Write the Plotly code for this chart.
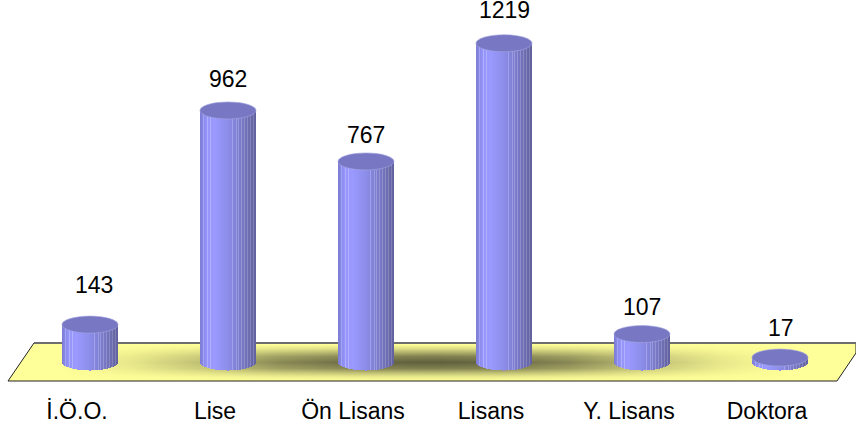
import math
import plotly.graph_objects as go

# ---- data ----
categories = ["İ.Ö.O.", "Lise", "Ön Lisans", "Lisans", "Y. Lisans", "Doktora"]
values = [143, 962, 767, 1219, 107, 17]
label_dx = [4, 0, 0, 0, 0, 1]
label_dy = [40, 31, 26, 33, 27, 30]

# floor shadow profile (pixel position, strength)
shadow_x_px = [60, 130, 200, 280, 360, 430, 500, 570, 650, 720, 790]
shadow_x_amt = [0, .15, .4, .75, .95, 1, .95, .75, .4, .15, 0]
shadow_y_px = [344, 348, 352, 356, 362, 368, 372, 376, 380]
shadow_y_amt = [0, .2, .5, .8, 1, .8, .45, .15, 0]

# ---- geometry ----
W, H = 856, 432
PLOT_H = 395
X0, STEP = 90, 138
Y0, PX_PER_UNIT = 362, 0.2615
CYL_W = 56
RIM = 8.5


def x_unit(px):
    return (px - X0) / STEP


def y_unit(py):
    return (Y0 - py) / PX_PER_UNIT


def px_paper(x, y):
    return f"{x / W:.5f} {1 - y / PLOT_H:.5f}"


idx = list(range(len(values)))
fig = go.Figure()

# shadow on the floor
fig.add_trace(go.Heatmap(
    x=[x_unit(p) for p in shadow_x_px],
    y=[y_unit(p) for p in shadow_y_px],
    z=[[a * b for a in shadow_x_amt] for b in shadow_y_amt],
    zmin=0, zmax=1, zsmooth="best", showscale=False, hoverinfo="skip",
    colorscale=[[0, "rgba(40,40,30,0)"], [1, "rgba(40,40,30,0.74)"]],
))

# cylinder bodies: one-pixel stripes with curved bottoms
shade_pos = [0, 6, 14, 28, 42, 50, 55]
shade_r = [126, 148, 154, 140, 120, 106, 98]
shade_g = [126, 148, 154, 140, 120, 106, 98]
shade_b = [214, 250, 255, 232, 196, 172, 160]
light_stripes = {3, 7, 10, 32, 36, 38, 41, 44, 47, 50, 53}


def lerp(xs, ys, v):
    for a, b, c, d in zip(xs, xs[1:], ys, ys[1:]):
        if v <= b:
            return c + (d - c) * (v - a) / (b - a)
    return ys[-1]


for k in range(CYL_W):
    r = lerp(shade_pos, shade_r, k)
    g = lerp(shade_pos, shade_g, k)
    b = lerp(shade_pos, shade_b, k)
    if k in light_stripes:
        r, g, b = r + 26, g + 26, min(b + 14, 255)
    t = (k + 0.5 - CYL_W / 2) / (CYL_W / 2)
    depth = RIM * math.sqrt(max(0, 1 - t * t)) / PX_PER_UNIT
    fig.add_trace(go.Bar(
        x=idx,
        y=[v + depth for v in values],
        base=[-depth] * len(values),
        width=1 / STEP,
        offset=(k - CYL_W / 2) / STEP,
        marker=dict(color=f"rgb({r:.0f},{g:.0f},{b:.0f})", line=dict(width=0)),
        showlegend=False,
        hoverinfo="skip",
    ))

shapes = [
    dict(type="path", xref="paper", yref="paper", layer="below",
         path="M " + " L ".join(px_paper(x, y) for x, y in
                                [(34, 343), (856, 343), (856, 353), (837, 381), (8, 381)]) + " Z",
         fillcolor="#FFFF99", line=dict(color="#222222", width=1)),
    dict(type="line", xref="paper", yref="paper", layer="below",
         x0=34 / W, x1=1, y0=1 - 343 / PLOT_H, y1=1 - 343 / PLOT_H,
         line=dict(color="#6e6e6e", width=2)),
]
for i, v in zip(idx, values):
    shapes.append(dict(
        type="circle", xref="x", yref="y", layer="above",
        x0=i - CYL_W / 2 / STEP, x1=i + CYL_W / 2 / STEP,
        y0=v - RIM / PX_PER_UNIT, y1=v + RIM / PX_PER_UNIT,
        fillcolor="#7777C3", line=dict(color="#A4A4E0", width=0.6),
    ))

annotations = [
    dict(x=i, y=v, xref="x", yref="y", text=str(v), showarrow=False,
         xshift=dx, yshift=dy, yanchor="middle", xanchor="center",
         font=dict(family="Liberation Sans", size=23, color="#000000"))
    for i, v, dx, dy in zip(idx, values, label_dx, label_dy)
]

fig.update_layout(
    width=W, height=H,
    margin=dict(l=0, r=0, t=0, b=H - PLOT_H, pad=0),
    paper_bgcolor="#FFFFFF", plot_bgcolor="rgba(0,0,0,0)",
    barmode="overlay", bargap=0,
    shapes=shapes, annotations=annotations, showlegend=False,
    xaxis=dict(range=[x_unit(0), x_unit(W)], tickvals=[i - 13 / STEP for i in idx],
               ticktext=categories, showgrid=False, zeroline=False, showline=False,
               ticks="", tickangle=0, tickfont=dict(family="Liberation Sans", size=23, color="#000000")),
    yaxis=dict(range=[y_unit(PLOT_H), y_unit(0)], visible=False, showgrid=False, zeroline=False),
)

fig.write_html("out.html", config={"displayModeBar": False},
               post_script="document.body.style.margin='0';")
